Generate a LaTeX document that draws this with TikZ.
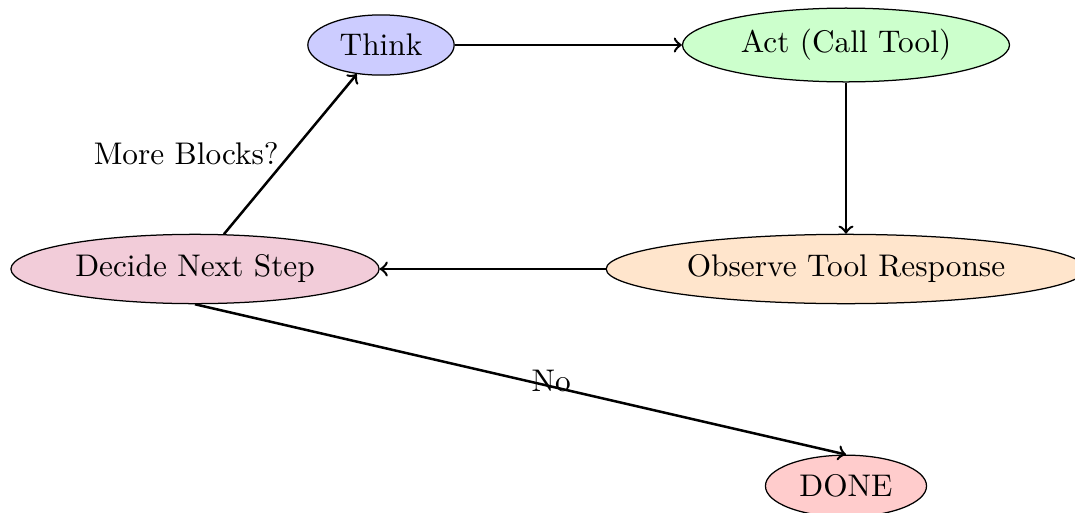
\documentclass[tikz,border=0pt]{standalone}
\usetikzlibrary{shapes.geometric}
\begin{document}
\begin{tikzpicture}[x=0.011223cm, y=-0.011223cm,
  stage/.style={ellipse, draw, inner sep=0.3333em},
  flow/.style={->, thick}]
  \clip (0,0) rectangle (1075,513);
  % loop stages
  \node[stage, fill=blue!20]   (think)   at (381,45)  {Think};
  \node[stage, fill=green!20]  (act)     at (846,45)  {Act (Call Tool)};
  \node[stage, fill=orange!20] (observe) at (846,269) {Observe Tool Response};
  \node[stage, fill=purple!20] (decide)  at (195,269) {Decide Next Step};
  \node[stage, fill=red!20]    (done)    at (846,486) {DONE};
  % transitions
  \draw[flow] (think) -- (act);
  \draw[flow] (act) -- (observe);
  \draw[flow] (observe) -- (decide);
  \draw[flow] (decide) -- node[left] {More Blocks?} (think);
  \draw[flow] (decide.south) -- node[pos=0.547, yshift=1.8pt] {No} (done.north);
\end{tikzpicture}
\end{document}
